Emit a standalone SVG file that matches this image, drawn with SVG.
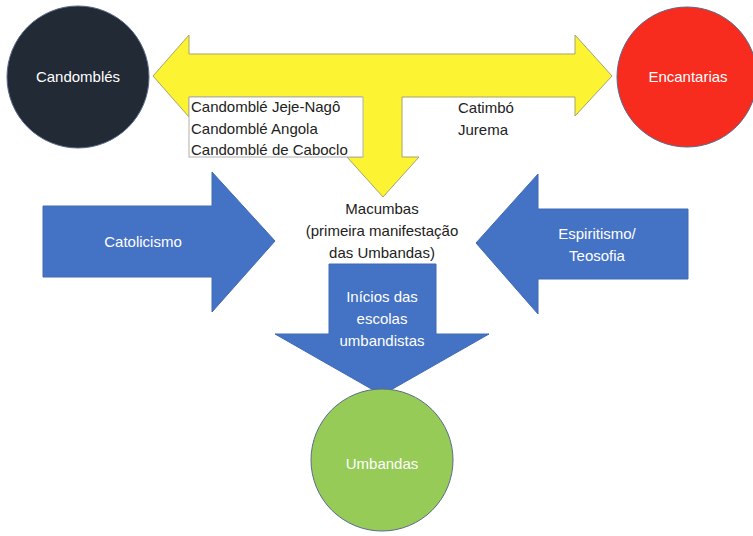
<svg xmlns="http://www.w3.org/2000/svg" width="753" height="536" viewBox="0 0 753 536">
<style>
text{font-family:"Liberation Sans",Arial,sans-serif;font-size:15px}
.w{fill:#ffffff}
.k{fill:#222222}
.m{text-anchor:middle}
.blue{fill:#4472C4;stroke:#3F6AB5;stroke-width:1}
.circ{stroke:#5B6B8C;stroke-width:1}
</style>
<rect width="753" height="536" fill="#ffffff"/>
<g id="connectors">
<g id="arrow-yellow">
<polygon points="153,76 189,35 189,54 575,54 575,35 612,76 575,116 575,97 402,97 402,157 419,157 383,197 347,157 362,157 362,97 189,97 189,117" fill="#FCF332" stroke="#A8A46A" stroke-width="1"/>
<rect x="189" y="97" width="174" height="60" fill="#ffffff" stroke="#B0B0B0" stroke-width="1"/>
<text class="k" x="191" y="112">Candomblé Jeje-Nagô</text>
<text class="k" x="191" y="134">Candomblé Angola</text>
<text class="k" x="191" y="155">Candomblé de Caboclo</text>
<text class="k" x="458" y="113">Catimbó</text>
<text class="k" x="458" y="135">Jurema</text>
</g>
<g id="arrow-catolicismo">
<polygon class="blue" points="43,206 212,206 212,172 275,241 212,312 212,277 43,277"/>
<text class="w m" x="143" y="247">Catolicismo</text>
</g>
<g id="arrow-espiritismo">
<polygon class="blue" points="688,209 538,209 538,174 476,243 538,314 538,279 688,279"/>
<text class="w m" x="597" y="239">Espiritismo/</text>
<text class="w m" x="597" y="261">Teosofia</text>
</g>
<g id="arrow-inicios">
<polygon class="blue" points="329,264 436,264 436,334 489,334 382,395 275,334 329,334"/>
<text class="w m" x="382" y="302">Inícios das</text>
<text class="w m" x="382" y="324">escolas</text>
<text class="w m" x="382" y="346">umbandistas</text>
</g>
</g>
<g id="node-macumbas">
<text class="k m" x="382" y="214">Macumbas</text>
<text class="k m" x="382" y="236">(primeira manifestação</text>
<text class="k m" x="382" y="258">das Umbandas)</text>
</g>
<g id="node-candombles">
<circle class="circ" cx="78" cy="77" r="71" fill="#222A35"/>
<text class="w m" x="78" y="82">Candomblés</text>
</g>
<g id="node-encantarias">
<circle class="circ" cx="687" cy="77" r="70" fill="#F72C1F"/>
<text class="w m" x="688" y="82">Encantarias</text>
</g>
<g id="node-umbandas">
<circle class="circ" cx="382" cy="460" r="71" fill="#95CB56"/>
<text class="w m" x="382" y="469">Umbandas</text>
</g>
</svg>
